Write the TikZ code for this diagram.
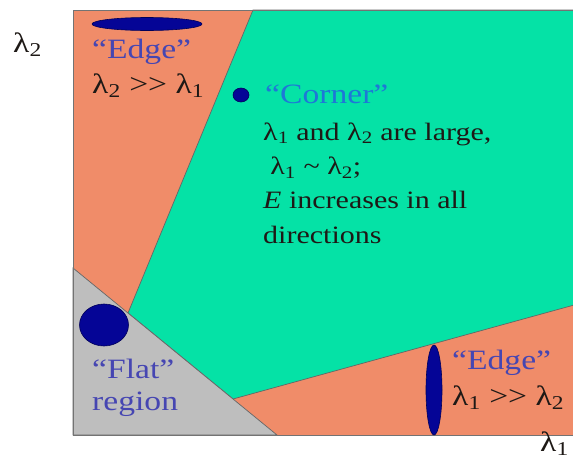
\documentclass[tikz,border=0pt]{standalone}
\usepackage{fontspec}
\setmainfont{Liberation Serif}
\definecolor{salmon}{RGB}{240,140,105}
\definecolor{mint}{RGB}{5,226,166}
\definecolor{flatgray}{RGB}{190,190,190}
\definecolor{navy}{RGB}{5,5,150}
\definecolor{navyedge}{RGB}{0,0,90}
\definecolor{edgeblue}{RGB}{70,70,178}
\definecolor{cornerblue}{RGB}{30,120,215}
\definecolor{ink}{RGB}{30,25,22}

\begin{document}
\begin{tikzpicture}[x=1pt,y=-1pt]
	\tikzstyle{border} = [draw=black!60, line width=0.7pt];
	\tikzstyle{blob} = [draw=navyedge, fill=navy, line width=0.6pt];
	\tikzstyle{txt} = [anchor=base west, inner sep=0pt, xscale=1.2, align=left, text=ink];
	\tikzstyle{big} = [txt, font=\fontsize{28}{34}\selectfont];
	\tikzstyle{small} = [txt, font=\fontsize{25}{34.3}\selectfont];
	
	\useasboundingbox (0,0) rectangle (573,461);
	
	% regions
	\fill[salmon] (73,10) rectangle (585,435);
	\filldraw[fill=mint, border] (253,10) -- (585,10) -- (585,302) -- (233,399) -- (128,313) -- cycle;
	\filldraw[fill=flatgray, border] (73,268) -- (277,435) -- (73,435) -- cycle;
	\draw[draw=black!55, line width=1pt] (585,10) -- (73,10) -- (73,435) -- (585,435);
	
	% ellipses
	\filldraw[blob] (147,24) ellipse (55pt and 6.5pt);
	\filldraw[blob] (241,95) ellipse (8pt and 7pt);
	\filldraw[blob] (104,325) ellipse (24.5pt and 21pt);
	\filldraw[blob] (434,390) ellipse (8pt and 45pt);
	
	% axis labels (multi-line nodes sit on their last baseline)
	\node[big] (lamY) at (13,52) {λ\textsubscript{2}};
	\node[big] (lamX) at (540,451) {λ\textsubscript{1}};
	
	% region texts
	\node[big, text=edgeblue] (edgeTop) at (92,58) {“Edge”};
	\node[big] (edgeTopRel) at (92,93) {λ\textsubscript{2} >{}> λ\textsubscript{1}};
	
	\node[big, text=cornerblue] (corner) at (265,103) {“Corner”};
	\node[small] (cornerInfo) at (263,243) {λ\textsubscript{1} and λ\textsubscript{2} are large,\\
		\hspace{6pt}λ\textsubscript{1} \textasciitilde{} λ\textsubscript{2};\\
		\textit{E} increases in all\\
		directions};
	
	\node[big, text=edgeblue, font=\fontsize{28}{32}\selectfont] (flat) at (92,410) {“Flat”\\region};
	
	\node[big, text=edgeblue] (edgeBot) at (452,369) {“Edge”};
	\node[big] (edgeBotRel) at (452,405) {λ\textsubscript{1} >{}> λ\textsubscript{2}};
\end{tikzpicture}
\end{document}
